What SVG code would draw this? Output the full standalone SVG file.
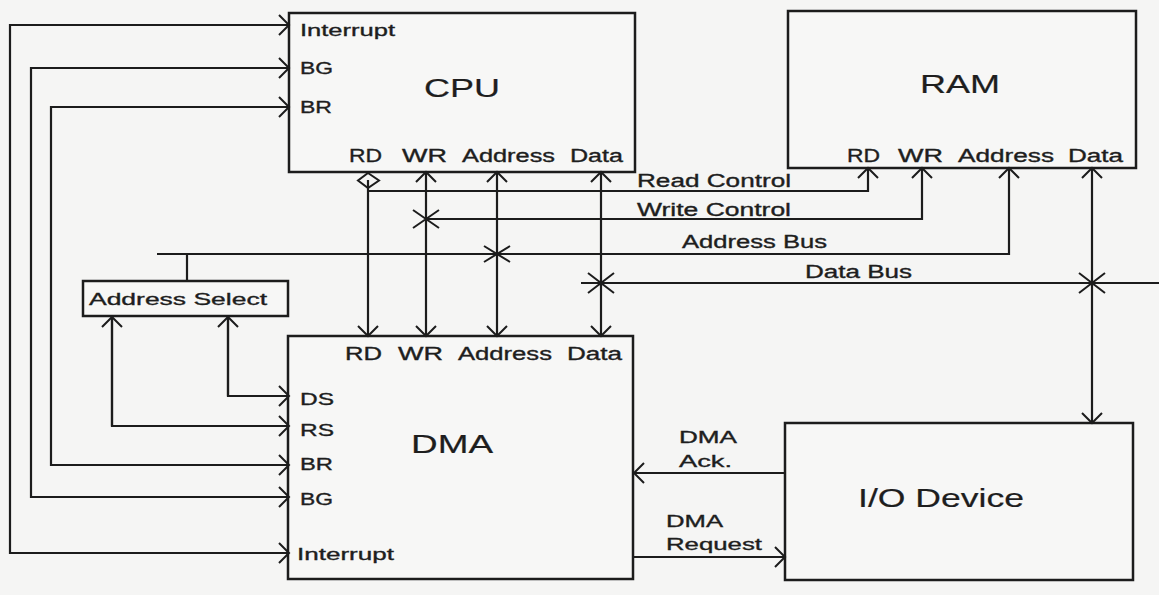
<svg xmlns="http://www.w3.org/2000/svg" width="1159" height="595" viewBox="0 0 1159 595">
<style>
.bg{fill:#f5f5f4}
.box{fill:#f7f7f6;stroke:#1c1c1c;stroke-width:2.5}
.ln{fill:none;stroke:#1c1c1c;stroke-width:2.2}
.ah{fill:none;stroke:#1c1c1c;stroke-width:2}
text{font-family:"Liberation Sans",Arial,sans-serif;fill:#1e1e1e;stroke:#1e1e1e;stroke-width:0.35}
.s{font-size:17px}
.m{font-size:18px}
.l{font-size:26px;stroke-width:0.2}
</style>
<defs>
<marker id="arr" markerUnits="userSpaceOnUse" markerWidth="14" markerHeight="26" viewBox="-1 -1 14 26" refX="11" refY="12" orient="auto">
<path d="M1,2 L11,12 L1,22" class="ah"/>
</marker>
</defs>
<rect class="bg" x="0" y="0" width="1159" height="595"/>

<g id="cpu">
<rect class="box" x="289" y="13" width="346" height="159"/>
<text class="s" x="300" y="36" textLength="95" lengthAdjust="spacingAndGlyphs" font-size="16">Interrupt</text>
<text class="s" x="300" y="74" textLength="33" lengthAdjust="spacingAndGlyphs">BG</text>
<text class="s" x="300" y="113" textLength="32" lengthAdjust="spacingAndGlyphs">BR</text>
<text class="l" x="424" y="97" textLength="76" lengthAdjust="spacingAndGlyphs">CPU</text>
<text class="m" x="349" y="162" textLength="33" lengthAdjust="spacingAndGlyphs">RD</text>
<text class="m" x="402" y="162" textLength="45" lengthAdjust="spacingAndGlyphs">WR</text>
<text class="m" x="462" y="162" textLength="93" lengthAdjust="spacingAndGlyphs">Address</text>
<text class="m" x="570" y="162" textLength="53" lengthAdjust="spacingAndGlyphs">Data</text>
</g>

<g id="ram">
<rect class="box" x="788" y="11" width="348" height="157"/>
<text class="l" x="920" y="93" textLength="80" lengthAdjust="spacingAndGlyphs">RAM</text>
<text class="m" x="847" y="162" textLength="33" lengthAdjust="spacingAndGlyphs">RD</text>
<text class="m" x="898" y="162" textLength="45" lengthAdjust="spacingAndGlyphs">WR</text>
<text class="m" x="958" y="162" textLength="96" lengthAdjust="spacingAndGlyphs">Address</text>
<text class="m" x="1068" y="162" textLength="55" lengthAdjust="spacingAndGlyphs">Data</text>
</g>

<g id="address-select">
<rect class="box" x="83" y="281" width="205" height="35"/>
<text class="s" x="89" y="305" textLength="178" lengthAdjust="spacingAndGlyphs">Address Select</text>
</g>

<g id="dma">
<rect class="box" x="288" y="336" width="345" height="243"/>
<text class="m" x="345" y="360" textLength="37" lengthAdjust="spacingAndGlyphs">RD</text>
<text class="m" x="398" y="360" textLength="45" lengthAdjust="spacingAndGlyphs">WR</text>
<text class="m" x="458" y="360" textLength="94" lengthAdjust="spacingAndGlyphs">Address</text>
<text class="m" x="567" y="360" textLength="55" lengthAdjust="spacingAndGlyphs">Data</text>
<text class="s" x="300" y="405" textLength="34" lengthAdjust="spacingAndGlyphs">DS</text>
<text class="s" x="300" y="436" textLength="34" lengthAdjust="spacingAndGlyphs">RS</text>
<text class="s" x="300" y="470" textLength="33" lengthAdjust="spacingAndGlyphs">BR</text>
<text class="s" x="300" y="505" textLength="33" lengthAdjust="spacingAndGlyphs">BG</text>
<text class="s" x="297" y="560" textLength="97" lengthAdjust="spacingAndGlyphs" font-size="16">Interrupt</text>
<text class="l" x="411" y="453" textLength="82" lengthAdjust="spacingAndGlyphs">DMA</text>
</g>

<g id="io-device">
<rect class="box" x="785" y="423" width="348" height="157"/>
<text class="l" x="858" y="507" textLength="166" lengthAdjust="spacingAndGlyphs">I/O Device</text>
</g>

<g id="connectors">
<polyline class="ln" points="289,25 10,25 10,553 289,553" marker-end="url(#arr)"/>
<line class="ln" x1="10" y1="25" x2="289" y2="25" marker-end="url(#arr)"/>
<polyline class="ln" points="289,68 31,68 31,497 289,497" marker-end="url(#arr)"/>
<line class="ln" x1="31" y1="68" x2="289" y2="68" marker-end="url(#arr)"/>
<polyline class="ln" points="289,107 51,107 51,465 289,465" marker-end="url(#arr)"/>
<line class="ln" x1="51" y1="107" x2="289" y2="107" marker-end="url(#arr)"/>
<polyline class="ln" points="112,317 112,426 289,426" marker-end="url(#arr)"/>
<line class="ln" x1="112" y1="426" x2="112" y2="317" marker-end="url(#arr)"/>
<polyline class="ln" points="228,317 228,396 289,396" marker-end="url(#arr)"/>
<line class="ln" x1="228" y1="396" x2="228" y2="317" marker-end="url(#arr)"/>
<line class="ln" x1="187" y1="254" x2="187" y2="281"/>
<line class="ln" x1="368" y1="180" x2="368" y2="336" marker-end="url(#arr)"/>
<polygon class="ah" points="368,173 379,180.5 368,188 358,180.5"/>
<line class="ln" x1="426" y1="230" x2="426" y2="336" marker-end="url(#arr)"/>
<line class="ln" x1="426" y1="230" x2="426" y2="172" marker-end="url(#arr)"/>
<line class="ln" x1="497" y1="260" x2="497" y2="336" marker-end="url(#arr)"/>
<line class="ln" x1="497" y1="260" x2="497" y2="172" marker-end="url(#arr)"/>
<line class="ln" x1="601" y1="290" x2="601" y2="336" marker-end="url(#arr)"/>
<line class="ln" x1="601" y1="290" x2="601" y2="172" marker-end="url(#arr)"/>
<polyline class="ln" points="368,191 868,191 868,168" marker-end="url(#arr)"/>
<polyline class="ln" points="426,219 922,219 922,168" marker-end="url(#arr)"/>
<polyline class="ln" points="157,254 1009,254 1009,168" marker-end="url(#arr)"/>
<line class="ln" x1="581" y1="283" x2="1159" y2="283"/>
<line class="ln" x1="1092" y1="290" x2="1092" y2="168" marker-end="url(#arr)"/>
<line class="ln" x1="1092" y1="290" x2="1092" y2="423" marker-end="url(#arr)"/>
<path class="ah" d="M413,210 L439,228 M413,228 L439,210"/>
<path class="ah" d="M484,246 L510,262 M484,262 L510,246"/>
<path class="ah" d="M588,273 L614,293 M588,293 L614,273"/>
<path class="ah" d="M1079,273 L1105,293 M1079,293 L1105,273"/>
<circle cx="601" cy="283" r="2.5" fill="#1c1c1c"/>
<circle cx="1092" cy="283" r="2.5" fill="#1c1c1c"/>
<line class="ln" x1="785" y1="473" x2="634" y2="473" marker-end="url(#arr)"/>
<line class="ln" x1="634" y1="557" x2="785" y2="557" marker-end="url(#arr)"/>
</g>

<g id="labels">
<text class="m" x="637" y="187" textLength="154" lengthAdjust="spacingAndGlyphs">Read Control</text>
<text class="m" x="637" y="216" textLength="154" lengthAdjust="spacingAndGlyphs">Write Control</text>
<text class="m" x="682" y="248" textLength="145" lengthAdjust="spacingAndGlyphs">Address Bus</text>
<text class="m" x="805" y="278" textLength="107" lengthAdjust="spacingAndGlyphs">Data Bus</text>
<text class="s" x="679" y="443" textLength="58" lengthAdjust="spacingAndGlyphs">DMA</text>
<text class="s" x="679" y="467" textLength="53" lengthAdjust="spacingAndGlyphs">Ack.</text>
<text class="s" x="666" y="527" textLength="57" lengthAdjust="spacingAndGlyphs">DMA</text>
<text class="s" x="666" y="550" textLength="96" lengthAdjust="spacingAndGlyphs">Request</text>
</g>
</svg>
